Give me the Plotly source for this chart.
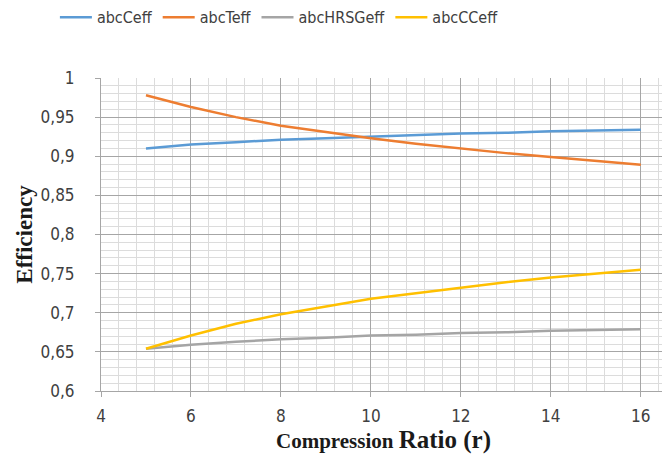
import plotly.graph_objects as go

ratio = [5, 6, 7, 8, 9, 10, 11, 12, 13, 14, 15, 16]
abcCeff = [0.910, 0.915, 0.918, 0.921, 0.923, 0.925, 0.927, 0.929, 0.930, 0.932, 0.933, 0.934]
abcTeff = [0.978, 0.963, 0.950, 0.939, 0.931, 0.923, 0.916, 0.910, 0.904, 0.899, 0.894, 0.889]
abcHRSGeff = [0.654, 0.659, 0.663, 0.666, 0.668, 0.671, 0.672, 0.674, 0.675, 0.677, 0.678, 0.679]
abcCCeff = [0.654, 0.671, 0.686, 0.698, 0.708, 0.718, 0.725, 0.732, 0.739, 0.745, 0.750, 0.755]

series = [
    ("abcCeff", abcCeff, "#5b9bd5"),
    ("abcTeff", abcTeff, "#ed7d31"),
    ("abcHRSGeff", abcHRSGeff, "#a5a5a5"),
    ("abcCCeff", abcCCeff, "#ffc000"),
]

fig = go.Figure()
for name, vals, col in series:
    fig.add_trace(go.Scatter(x=ratio, y=vals, mode="lines", name=name,
                             line=dict(color=col, width=2.5)))

narrow = "DejaVu Sans Condensed, Liberation Sans Narrow, Liberation Sans, sans-serif"
tickfont = dict(family=narrow, size=17, color="#404040")

fig.update_layout(
    width=670, height=466,
    margin=dict(l=93, r=12, t=70, b=83, autoexpand=False),
    paper_bgcolor="white", plot_bgcolor="white",
    separators=",.",
    showlegend=True,
    legend=dict(orientation="h", x=0.07, xanchor="left", xref="container",
                y=0.98, yanchor="middle", yref="container",
                font=dict(family=narrow, size=16, color="#404040"),
                entrywidth=0, itemwidth=32, tracegroupgap=0),
    xaxis=dict(range=[4, 16.56], dtick=2, tick0=4, tickfont=tickfont,
               showgrid=True, gridcolor="#a6a6a6", gridwidth=1,
               minor=dict(dtick=0.4, tick0=4, showgrid=True, gridcolor="#dcdcdc", gridwidth=1),
               showline=True, linecolor="#a6a6a6", linewidth=1,
               ticks="outside", ticklen=5, tickcolor="#a6a6a6",
               zeroline=False, ticklabelstandoff=5,
               title=dict(text="<b>Compression <span style='font-size:25px'>Ratio (r)</span></b>",
                          font=dict(family="Liberation Serif, serif", size=21, color="#1a1a1a"),
                          standoff=6)),
    yaxis=dict(range=[0.6, 1.0], dtick=0.05, tick0=0.6, tickfont=tickfont,
               showgrid=True, gridcolor="#a6a6a6", gridwidth=1,
               minor=dict(dtick=0.01, showgrid=True, gridcolor="#dcdcdc", gridwidth=1),
               showline=True, linecolor="#a6a6a6", linewidth=1,
               ticks="outside", ticklen=5, tickcolor="#a6a6a6",
               zeroline=False, ticklabelstandoff=17,
               title=dict(text="<b>Efficiency</b>",
                          font=dict(family="Liberation Serif, serif", size=23, color="#1a1a1a"),
                          standoff=1)),
)

fig.write_html("out.html")
